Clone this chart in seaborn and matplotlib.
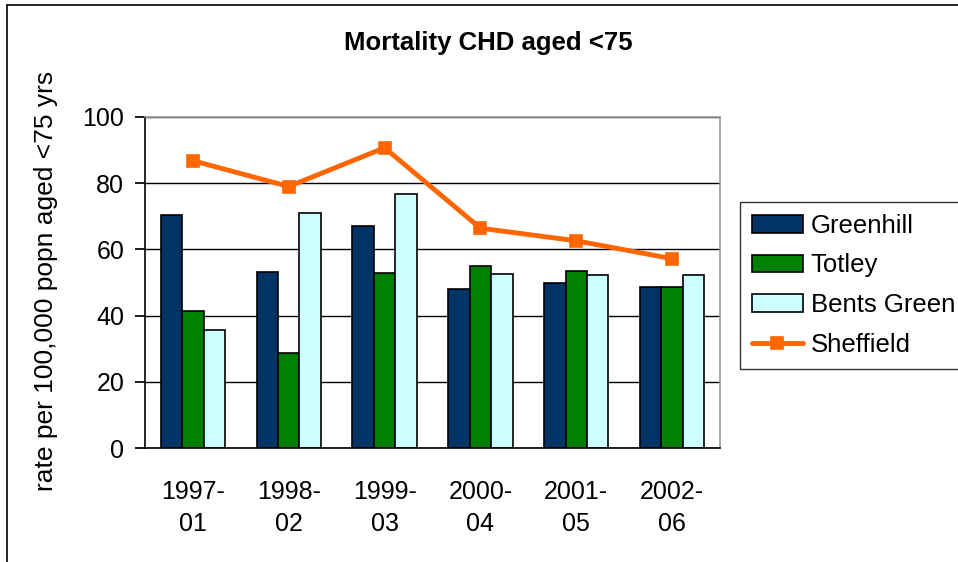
import numpy as np
import pandas as pd
import matplotlib
matplotlib.use("Agg")
import matplotlib.pyplot as plt
from matplotlib.lines import Line2D
from matplotlib.ticker import FixedLocator
import seaborn as sns

# data
periods = ["1997-01", "1998-02", "1999-03", "2000-04", "2001-05", "2002-06"]
tick_labels = ["1997-\n01", "1998-\n02", "1999-\n03", "2000-\n04", "2001-\n05", "2002-\n06"]
greenhill = [70.5, 53.1, 67.1, 48.1, 49.7, 48.6]
totley = [41.4, 28.8, 53.0, 55.0, 53.6, 48.6]
bents_green = [35.6, 70.9, 76.6, 52.6, 52.2, 52.2]
sheffield = [86.8, 79.0, 90.7, 66.4, 62.6, 57.2]

areas = ["Greenhill", "Totley", "Bents Green"]
palette = {"Greenhill": "#003366", "Totley": "#008000", "Bents Green": "#CCFFFF"}

bars = pd.DataFrame({
    "period": periods * 3,
    "area": [a for a in areas for _ in periods],
    "rate": greenhill + totley + bents_green,
})
line = pd.DataFrame({"period": periods, "rate": sheffield})

sns.set_theme(style="white")
plt.rcParams["font.family"] = ["Liberation Sans", "DejaVu Sans"]
plt.rcParams["text.color"] = "black"
plt.rcParams["xtick.color"] = "black"
plt.rcParams["ytick.color"] = "black"
plt.rcParams["xtick.labelcolor"] = "black"
plt.rcParams["ytick.labelcolor"] = "black"

fig = plt.figure(figsize=(9.58, 5.62), dpi=100)
ax = fig.add_axes([145 / 958, 1 - 448 / 562, 575 / 958, 331 / 562])

sns.barplot(data=bars, x="period", y="rate", hue="area", hue_order=areas,
            palette=palette, width=0.67, gap=0, edgecolor="black",
            linewidth=1.2, saturation=1, ax=ax, legend=True)
sns.pointplot(data=line, x="period", y="rate", color="#FF6600",
              markers="s", markersize=7, linewidth=3.5, label="Sheffield",
              ax=ax)

ax.set_xlim(-0.5, 5.5)
ax.set_ylim(0, 100)
ax.set_yticks([0, 20, 40, 60, 80, 100])
ax.yaxis.grid(True, color="black", linewidth=1)
ax.set_axisbelow(True)
ax.set_xlabel("")
ax.set_ylabel("")

ax.set_xticks(range(len(periods)))
ax.set_xticklabels(tick_labels, fontsize=18, linespacing=1.45)
ax.tick_params(axis="x", which="major", length=0, pad=23)
ax.xaxis.set_minor_locator(FixedLocator(np.arange(-0.5, 6, 1)))
ax.tick_params(axis="x", which="minor", length=8, direction="inout",
               color="#555555", width=1.2)
ax.tick_params(axis="y", labelsize=18, length=7, direction="out",
               color="black", left=True, pad=8)

for side in ["left", "bottom"]:
    ax.spines[side].set_color("black")
    ax.spines[side].set_linewidth(1.2)
for side in ["right", "top"]:
    ax.spines[side].set_color("#999999")
    ax.spines[side].set_linewidth(1.2)

handles, labels = ax.get_legend_handles_labels()
leg = fig.legend(handles, labels, loc="upper left",
                 bbox_to_anchor=(740 / 958, 1 - 202 / 562),
                 fontsize=18.5, frameon=True, fancybox=False, edgecolor="black",
                 borderaxespad=0, handlelength=2.0, handleheight=0.7,
                 labelspacing=0.62, borderpad=0.45, handletextpad=0.3)
leg.get_frame().set_linewidth(1)
if ax.get_legend():
    ax.get_legend().remove()

fig.text(488 / 958, 1 - 43 / 562, "Mortality CHD aged <75", ha="center",
         va="center", fontsize=18.5, fontweight="bold")
fig.text(46 / 958, 1 - 281 / 562, "rate per 100,000 popn aged <75 yrs",
         rotation=90, ha="center", va="center", fontsize=19)

# outer chart-area frame (left and top edges visible)
fig.add_artist(Line2D([7 / 958, 7 / 958], [0, 1 - 5 / 562], color="black",
                      linewidth=1.2, transform=fig.transFigure))
fig.add_artist(Line2D([7 / 958, 1], [1 - 5 / 562, 1 - 5 / 562], color="black",
                      linewidth=1.2, transform=fig.transFigure))

fig.savefig("out.png", dpi=100)
